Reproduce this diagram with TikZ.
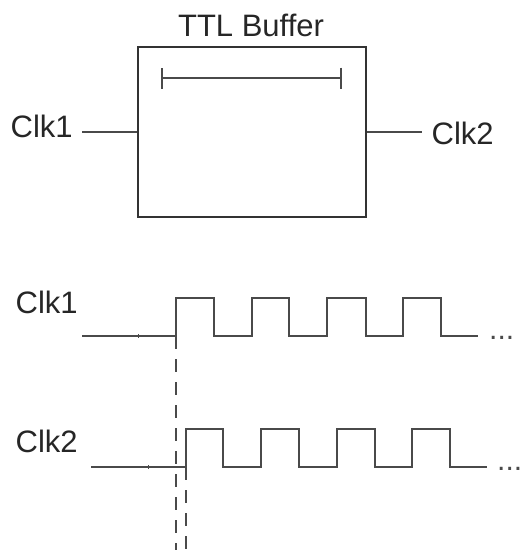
\documentclass[tikz,border=0pt]{standalone}
\usepackage{fontspec}
\setmainfont{Liberation Sans}
\usetikzlibrary{arrows.meta}
\definecolor{ink}{HTML}{4A4A4A}
\tikzset{
  lbl/.style={font=\fontsize{31}{37}\selectfont, inner sep=0pt, anchor=base west, text=black!85},
  wire/.style={line width=2pt, draw=ink},
  guide/.style={line width=2pt, draw=ink, dash pattern=on 13pt off 10pt},
  tick/.style={line width=0.8pt, draw=ink},
  dots/.style={font=\fontsize{30}{36}\selectfont, inner sep=0pt, anchor=base west, text=ink}
}
\begin{document}
\begin{tikzpicture}[x=1pt, y=-1pt]
\useasboundingbox (0,0) rectangle (520,550);
% buffer
\node[draw=black!80, line width=2.2pt, minimum width=228pt, minimum height=170pt, inner sep=0pt] (buf) at (252,132) {};
\node[font=\fontsize{31}{37}\selectfont, inner sep=0pt, anchor=base, text=black!85] (title) at (251,36) {TTL Buffer};
\coordinate (brl) at (161,78);
\coordinate (brr) at (342,78);
\draw[wire, {Bar[width=21pt]}-{Bar[width=21pt]}] (brl) -- (brr);
\node[lbl] (in1) at (10.5,137) {Clk1};
\node[lbl] (out2) at (431.5,144) {Clk2};
\coordinate (inend) at (82,132);
\coordinate (outend) at (422,132);
\draw[wire] (inend) -- (buf.west);
\draw[wire] (buf.east) -- (outend);
% waveforms
\node[lbl] (w1) at (15.5,313) {Clk1};
\node[lbl] (w2) at (15.5,452) {Clk2};
\coordinate (a0) at (82,336);
\coordinate (a1) at (176,336);
\coordinate (b0) at (91,467);
\coordinate (b1) at (186,467);
\draw[wire] (a0) -- (a1) -- (176,298) -- (214,298) -- (214,336) -- (252,336) -- (252,298) -- (289,298) -- (289,336) -- (327,336) -- (327,298) -- (366,298) -- (366,336) -- (403,336) -- (403,298) -- (441,298) -- (441,336) -- (478,336);
\draw[wire] (b0) -- (b1) -- (186,429) -- (223,429) -- (223,467) -- (261,467) -- (261,429) -- (299,429) -- (299,467) -- (337,467) -- (337,429) -- (375,429) -- (375,467) -- (412,467) -- (412,429) -- (450,429) -- (450,467) -- (487,467);
\draw[tick] (138,334) -- (138,338);
\draw[tick] (148,465) -- (148,469);
\node[dots] (d1) at (489,339) {...};
\node[dots] (d2) at (497,470) {...};
% dashed guides
\coordinate (g1) at (176,550);
\coordinate (g2) at (186,550);
\draw[guide] (a1) -- (g1);
\draw[guide] (b1) -- (g2);
\end{tikzpicture}
\end{document}
